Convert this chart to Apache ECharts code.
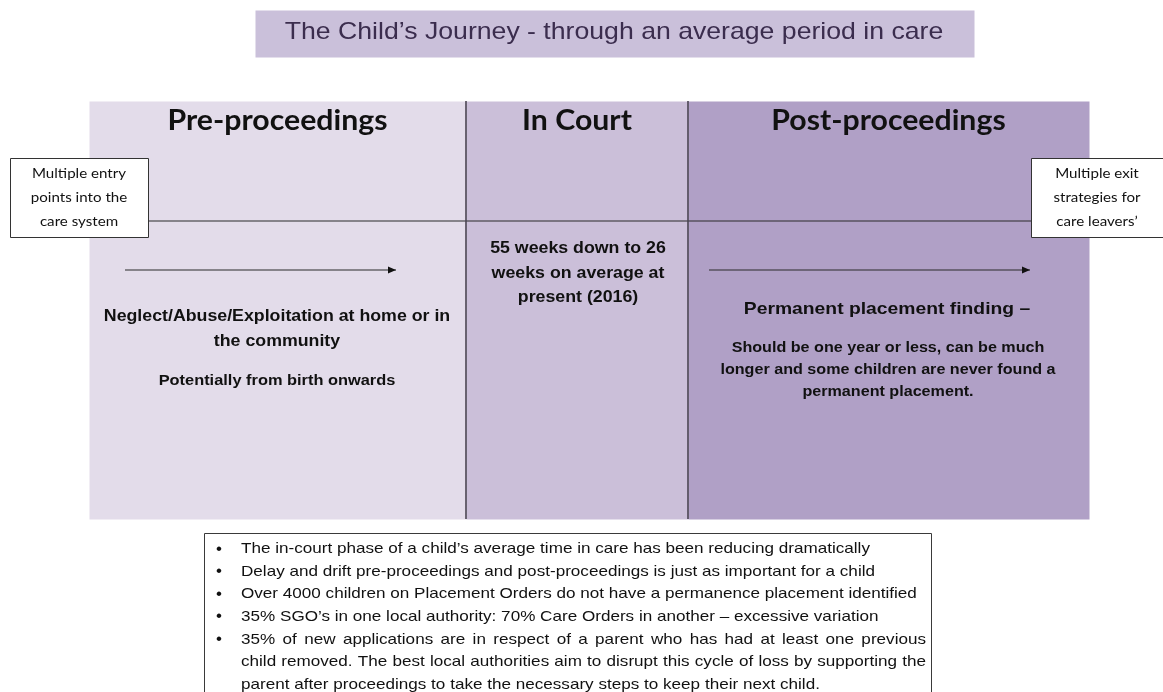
<!DOCTYPE html>
<html>
<head>
<meta charset="utf-8">
<title>The Child's Journey</title>
<script src="https://cdn.jsdelivr.net/npm/echarts@6/dist/echarts.min.js"></script>
<style>
  html, body { margin: 0; padding: 0; background: #fff; }
  #journeyChart { width: 1163px; height: 692px; }
</style>
</head>
<body>
<div id="journeyChart"></div>
<script>
// ---- data (texts of the diagram) ----
const titleText = 'The Child\u2019s Journey - through an average period in care'
const phaseNames = ['Pre-proceedings', 'In Court', 'Post-proceedings']
const entryLines = ['Multiple entry', 'points into the', 'care system']
const exitLines = ['Multiple exit', 'strategies for', 'care leavers\u2019']
const preMain = ['Neglect/Abuse/Exploitation at home or in', 'the community']
const preSub = ['Potentially from birth onwards']
const courtLines = ['55 weeks down to 26', 'weeks on average at', 'present (2016)']
const postMain = ['Permanent placement finding \u2013']
const postSub = ['Should be one year or less, can be much', 'longer and some children are never found a', 'permanent placement.']
const bulletLines = [
  'The in-court phase of a child\u2019s average time in care has been reducing dramatically',
  'Delay and drift pre-proceedings and post-proceedings is just as important for a child',
  'Over 4000 children on Placement Orders do not have a permanence placement identified',
  '35% SGO\u2019s in one local authority: 70% Care Orders in another \u2013 excessive variation',
  '35% of new applications are in respect of a parent who has had at least one previous',
  'child removed. The best local authorities aim to disrupt this cycle of loss by supporting the',
  'parent after proceedings to take the necessary steps to keep their next child.'
]
const bulletStarts = [true, true, true, true, true, false, false]
const bulletJustify = [false, false, false, false, true, true, false]

// ---- layout (axis units = px of the page) ----
const phaseEdges = [89, 466, 688, 1089]
const panelTop = 101
const panelBottom = 519
const phaseColors = ['#e3dcea', '#cbbfd9', '#b0a0c6']
const ARIAL = '"Liberation Sans", Arial, sans-serif'
const CALIBRI = 'Lato, "Open Sans", sans-serif'

const myChart = echarts.init(document.getElementById('journeyChart'))
const measureCtx = document.createElement('canvas').getContext('2d')
const textWidth = (t, font) => { measureCtx.font = font; return measureCtx.measureText(t).width }

// text block helper -> custom series item list
const textItems = []
const addLines = (lines, cx, y0, step, font, sx, align) => {
  lines.forEach((t, i) => textItems.push({ value: [cx, y0 + i * step], text: t, font: font, sx: sx || 1, align: align || 'center' }))
}
addLines([titleText], 614, 32, 0, 'normal 24px ' + ARIAL, 1.11)
phaseNames.forEach((n, i) => {
  addLines([n], (phaseEdges[i] + phaseEdges[i + 1]) / 2, 121, 0, 'bold 28px ' + CALIBRI, 1.08)
})
addLines(entryLines, 79, 173, 24, 'normal 14px ' + CALIBRI, 1.08)
addLines(exitLines, 1097, 173, 24, 'normal 14px ' + CALIBRI, 1.08)
addLines(preMain, 277, 317, 25, 'bold 16px ' + ARIAL, 1.11)
addLines(preSub, 277, 381, 0, 'bold 14.5px ' + ARIAL, 1.13)
addLines(courtLines, 578, 249, 24.5, 'bold 16px ' + ARIAL, 1.11)
addLines(postMain, 887, 309, 0, 'bold 16.5px ' + ARIAL, 1.17)
addLines(postSub, 888, 348, 22, 'bold 15px ' + ARIAL, 1.075)

const bulletFont = 'normal 15px ' + ARIAL
const bulletSx = 1.14
const bulletLeft = 241
const bulletRight = 926
bulletLines.forEach((t, i) => {
  const y = 549 + i * 22.6
  if (bulletStarts[i]) textItems.push({ value: [219, y], text: '\u2022', font: 'normal 17px ' + ARIAL, sx: 1, align: 'center' })
  if (!bulletJustify[i]) {
    textItems.push({ value: [bulletLeft, y], text: t, font: bulletFont, sx: bulletSx, align: 'left' })
    return
  }
  // justified line: spread the words to the right edge
  const words = t.split(' ')
  const widths = words.map(w => textWidth(w, bulletFont) * bulletSx)
  const total = widths.reduce((a, b) => a + b, 0)
  const gap = (bulletRight - bulletLeft - total) / (words.length - 1)
  let x = bulletLeft
  words.forEach((w, k) => {
    textItems.push({ value: [x, y], text: w, font: bulletFont, sx: bulletSx, align: 'left' })
    x += widths[k] + gap
  })
})

// boxes: [x0, y0, x1, y1, fill, stroke]
const boxes = [
  [255, 10, 974, 57, '#cac0da', 'none'],
  [phaseEdges[0], panelTop, phaseEdges[1], panelBottom, phaseColors[0], 'none'],
  [phaseEdges[1], panelTop, phaseEdges[2], panelBottom, phaseColors[1], 'none'],
  [phaseEdges[2], panelTop, phaseEdges[3], panelBottom, phaseColors[2], 'none'],
  [204, 533, 931, 700, '#ffffff', '#3a3a3a']
]
// segments: [x0, y0, x1, y1, arrow]
const segments = [
  [148, 221, 1031, 221, 0],
  [phaseEdges[1], panelTop, phaseEdges[1], panelBottom, 0],
  [phaseEdges[2], panelTop, phaseEdges[2], panelBottom, 0],
  [125, 270, 396, 270, 1],
  [709, 270, 1030, 270, 1]
]
const sideBoxes = [
  [10, 158, 148, 237, '#ffffff', '#333333'],
  [1031, 158, 1170, 237, '#ffffff', '#333333']
]

const boxRender = (params, api) => {
  const p0 = api.coord([api.value(0), api.value(1)])
  const p1 = api.coord([api.value(2), api.value(3)])
  const src = params.seriesName === 'side' ? sideBoxes[params.dataIndex] : boxes[params.dataIndex]
  return {
    type: 'rect',
    shape: { x: Math.round(p0[0]) + 0.5, y: Math.round(p0[1]) + 0.5, width: Math.round(p1[0] - p0[0]), height: Math.round(p1[1] - p0[1]) },
    style: { fill: src[4], stroke: src[5] === 'none' ? null : src[5], lineWidth: 1 }
  }
}

const option = {
  animation: false,
  grid: { left: 0, right: 0, top: 0, bottom: 0 },
  xAxis: { type: 'value', min: 0, max: 1163, show: false },
  yAxis: { type: 'value', min: 0, max: 692, inverse: true, show: false },
  series: [
    {
      name: 'boxes',
      type: 'custom',
      renderItem: boxRender,
      data: boxes.map(b => b.slice(0, 4)),
      z: 1
    },
    {
      name: 'segments',
      type: 'custom',
      renderItem: (params, api) => {
        const a = api.coord([api.value(0), api.value(1)])
        const b = api.coord([api.value(2), api.value(3)])
        const vertical = a[0] === b[0]
        const children = [{
          type: 'line',
          shape: { x1: a[0], y1: a[1], x2: b[0], y2: b[1] },
          style: { stroke: vertical ? '#4a4452' : '#2b2b2b', lineWidth: vertical ? 1.6 : 1.2 }
        }]
        if (api.value(4)) {
          children.push({
            type: 'polygon',
            shape: { points: [[b[0], b[1]], [b[0] - 8, b[1] - 3.5], [b[0] - 8, b[1] + 3.5]] },
            style: { fill: '#111' }
          })
        }
        return { type: 'group', children: children }
      },
      data: segments,
      z: 2
    },
    {
      name: 'side',
      type: 'custom',
      renderItem: boxRender,
      data: sideBoxes.map(b => b.slice(0, 4)),
      z: 3
    },
    {
      name: 'texts',
      type: 'custom',
      renderItem: (params, api) => {
        const item = textItems[params.dataIndex]
        const p = api.coord([api.value(0), api.value(1)])
        return {
          type: 'text',
          x: p[0],
          y: p[1],
          scaleX: item.sx,
          style: {
            x: 0, y: 0, text: item.text, font: item.font,
            fill: params.dataIndex === 0 ? '#3b2d4e' : '#111',
            align: item.align, verticalAlign: 'middle'
          }
        }
      },
      data: textItems.map(t => t.value),
      z: 4
    }
  ]
}
myChart.setOption(option)
</script>
</body>
</html>
